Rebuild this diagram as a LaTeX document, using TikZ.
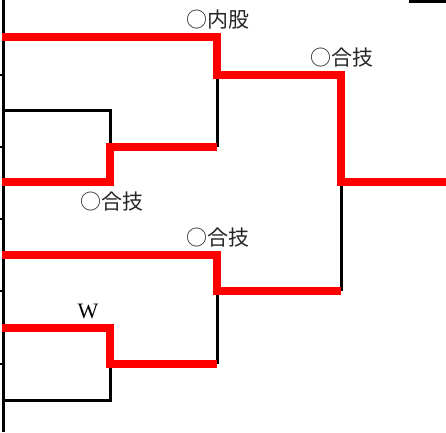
\documentclass[tikz,border=0pt]{standalone}
\usepackage{fontspec}
\setmainfont{Liberation Serif}
\newfontfamily\jpfont{Noto Sans CJK JP}
\begin{document}
\begin{tikzpicture}[x=1pt,y=-1pt,
    lose/.style={line width=3pt,black},
    win/.style={line width=8pt,red},
    waza/.style={font=\jpfont\fontsize{21}{21}\selectfont,inner sep=0pt,text=black!85}]
    \useasboundingbox (0,0) rectangle (446,432);
    % entry line and ticks
    \draw[lose] (3.5,0) -- (3.5,432);
    \foreach \y in {75,147,219,291,364}
        \draw[line width=2pt] (0,\y) -- (3.5,\y);
    \draw[lose] (409,1.5) -- (446,1.5);

    \foreach \n/\y in {1/37,2/110,3/182,4/255,5/328,6/400}
        \coordinate (e\n) at (2,\y);
    % round 1
    \coordinate (a1) at (110,147);
    \coordinate (a2) at (110,364);
    % round 2
    \coordinate (b1) at (217,75);
    \coordinate (b2) at (217,291);
    % final
    \coordinate (f) at (341,182);
    \coordinate (out) at (446,182);

    \draw[lose] (e2) -| (a1);
    \draw[lose] (e6) -| (a2);
    \draw[lose] (b1) -- (b1 |- a1);
    \draw[lose] (b2) -- (b2 |- a2);
    \draw[lose] (f) -- (f |- b2);

    \draw[win] (e1) -| (b1) -- (b1 -| f) -- (f) -- (out);
    \draw[win] (e3) -| (a1) -- (b1 |- a1);
    \draw[win] (e4) -| (b2) -- (b2 -| f);
    \draw[win] (e5) -| (a2) -- (b2 |- a2);

    \node[waza] (k1) at (218,20) {○内股};
    \node[waza] (k2) at (342,58) {○合技};
    \node[waza] (k3) at (112,202) {○合技};
    \node[waza] (k4) at (218,238) {○合技};
    \node[font=\fontsize{22}{22}\selectfont,inner sep=0pt] (w) at (88,311) {W};
\end{tikzpicture}
\end{document}
